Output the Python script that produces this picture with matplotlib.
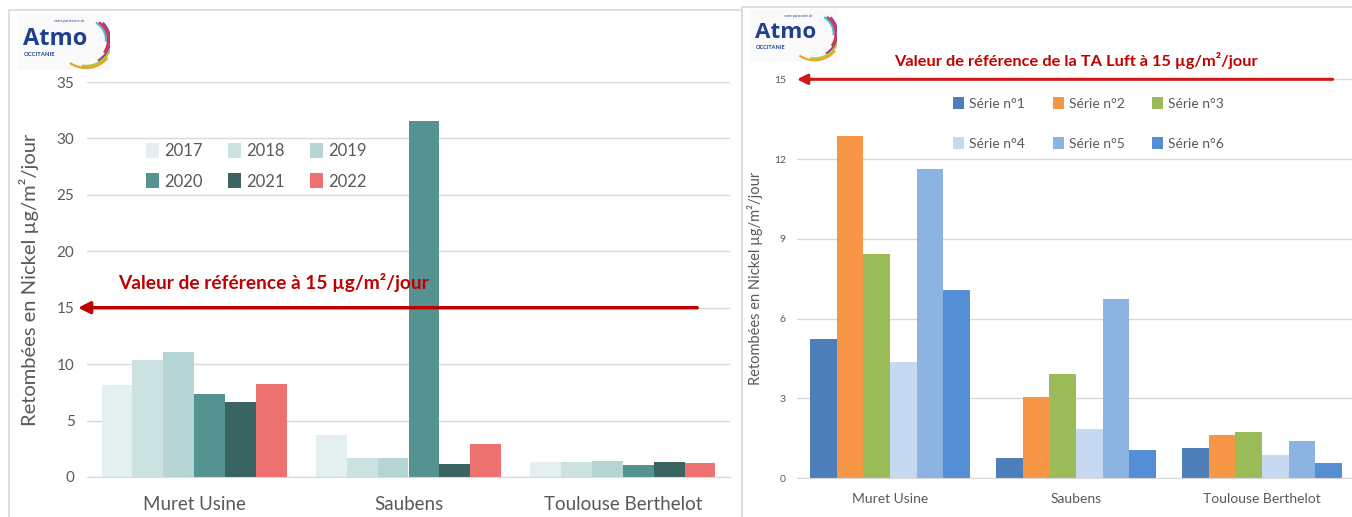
import matplotlib.pyplot as plt
import numpy as np
from matplotlib.patches import Arc, Rectangle

plt.rcParams["font.family"] = ["Lato", "DejaVu Sans"]

SITES = ["Muret Usine", "Saubens", "Toulouse Berthelot"]

# Annual nickel deposition per site (µg/m²/jour)
YEARS = ["2017", "2018", "2019", "2020", "2021", "2022"]
NI_2017 = [8.15, 3.75, 1.30]
NI_2018 = [10.38, 1.71, 1.36]
NI_2019 = [11.06, 1.65, 1.39]
NI_2020 = [7.35, 31.56, 1.06]
NI_2021 = [6.67, 1.18, 1.30]
NI_2022 = [8.26, 2.89, 1.21]
YEAR_COLORS = ["#e3f0ef", "#cce2e1", "#b4d5d4", "#559390", "#3a6462", "#ee7171"]

# Measurement series of the current campaign
SERIES = ["Série n°1", "Série n°2", "Série n°3", "Série n°4", "Série n°5", "Série n°6"]
SERIE_1 = [5.24, 0.77, 1.13]
SERIE_2 = [12.87, 3.05, 1.62]
SERIE_3 = [8.42, 3.91, 1.72]
SERIE_4 = [4.38, 1.84, 0.88]
SERIE_5 = [11.63, 6.75, 1.39]
SERIE_6 = [7.09, 1.07, 0.56]
SERIES_COLORS = ["#4f7fbb", "#f79646", "#9bbb59", "#c6d9f0", "#8db3e2", "#558ed5"]

REFERENCE = 15

W, H = 1352, 517
GREY = "#595959"


def px_rect(x0, y0, x1, y1):
    # pixel box (top-left origin) -> figure fraction [left, bottom, width, height]
    return [x0 / W, 1 - y1 / H, (x1 - x0) / W, (y1 - y0) / H]


def draw_logo(fig, x0, y0, scale=1.0):
    lax = fig.add_axes(px_rect(x0, y0, x0 + 92 * scale, y0 + 56 * scale))
    lax.set_xlim(0, 92)
    lax.set_ylim(56, 0)
    lax.axis("off")
    lax.add_patch(Rectangle((0, 0), 92, 56, color="#fafafa", zorder=0))
    lax.text(5, 25, "Atmo", fontsize=17 * scale, fontweight="bold", color="#1f3f8f",
             ha="left", va="center", family="Open Sans")
    lax.text(6, 40, "OCCITANIE", fontsize=4.2 * scale, fontweight="bold", color="#1f3f8f",
             ha="left", va="center")
    lax.text(36, 7, "votre partenaire air", fontsize=2.6 * scale, color="#1f3f8f",
             ha="left", va="center")
    arcs = [
        (40, 60, -5, "#3ec0e0"),
        (44, 54, -35, "#e03040"),
        (48, 46, -60, "#9b3c8c"),
        (52, -10, -100, "#a8c83c"),
        (56, -40, -125, "#f0a020"),
    ]
    for diam, t1, t0, col in arcs:
        lax.add_patch(Arc((68, 26), diam, diam, theta1=-t1, theta2=-t0, color=col,
                          lw=1.6 * scale))


def draw_frame(fig, x0, y0, x1, y1):
    fig.patches.append(Rectangle((x0 / W, 1 - y1 / H), (x1 - x0) / W, (y1 - y0) / H,
                                 transform=fig.transFigure, fill=False,
                                 edgecolor="#d9d9d9", lw=1.2))


def style_axes(ax, ticks, tick_size, pad):
    ax.set_yticks(ticks)
    ax.yaxis.grid(True, color="#d9d9d9", lw=1)
    ax.set_axisbelow(True)
    for side in ["top", "right", "left"]:
        ax.spines[side].set_visible(False)
    ax.spines["bottom"].set_color("#d9d9d9")
    ax.tick_params(length=0, colors=GREY)
    ax.tick_params(axis="y", labelsize=tick_size, pad=pad)


def grouped_bars(ax, values, colors, width):
    x = np.arange(len(SITES))
    for i, (vals, col) in enumerate(zip(values, colors)):
        ax.bar(x + (i - (len(values) - 1) / 2) * width, vals, width, color=col)
    ax.set_xticks(x)
    ax.set_xlim(-0.5, len(SITES) - 0.5)


fig = plt.figure(figsize=(W / 100, H / 100), dpi=100)

draw_frame(fig, 9, 10, 742, 530)
draw_frame(fig, 742, 7, 1360, 530)

# Left chart: yearly history
ax1 = fig.add_axes(px_rect(87, 82, 730, 477))
grouped_bars(ax1, [NI_2017, NI_2018, NI_2019, NI_2020, NI_2021, NI_2022], YEAR_COLORS, 0.144)
ax1.set_ylim(0, 35)
style_axes(ax1, np.arange(0, 36, 5), 11, 9)
ax1.set_xticklabels(SITES, fontsize=13.5, color=GREY)
ax1.tick_params(axis="x", pad=14)
ax1.set_ylabel("Retombées en Nickel µg/m²/jour", fontsize=14.5, color=GREY, labelpad=13)

order = [0, 3, 1, 4, 2, 5]
bars = ax1.containers
ax1.legend([bars[i] for i in order], [YEARS[i] for i in order], ncol=3, frameon=False,
           loc="upper left", bbox_to_anchor=(146 / W, 1 - 143 / H),
           bbox_transform=fig.transFigure, fontsize=12, labelcolor=GREY,
           handlelength=0.8, handleheight=1.0, handletextpad=0.3,
           columnspacing=1.5, labelspacing=0.85, borderpad=0, borderaxespad=0)

ax1.annotate("", xy=(-0.014, REFERENCE), xytext=(0.949, REFERENCE),
             xycoords=("axes fraction", "data"), annotation_clip=False,
             arrowprops=dict(arrowstyle="-|>,head_length=0.7,head_width=0.35",
                             color="#c00000", lw=2.5, shrinkA=0, shrinkB=0))
ax1.text(0.048, 17.2, "Valeur de référence à 15 µg/m²/jour", transform=ax1.get_yaxis_transform(),
         fontsize=13.8, fontweight="bold", color="#c00000", ha="left", va="center")

# Right chart: current campaign series
ax2 = fig.add_axes(px_rect(797, 79.3, 1355, 478))
grouped_bars(ax2, [SERIE_1, SERIE_2, SERIE_3, SERIE_4, SERIE_5, SERIE_6], SERIES_COLORS, 0.1435)
ax2.set_ylim(0, 15)
style_axes(ax2, np.arange(0, 16, 3), 7.5, 8)
ax2.set_xticklabels(SITES, fontsize=10, color=GREY)
ax2.tick_params(axis="x", pad=11)
ax2.set_ylabel("Retombées en Nickel µg/m²/jour", fontsize=10.5, color=GREY, labelpad=8)

bars = ax2.containers
ax2.legend([bars[i] for i in order], [SERIES[i] for i in order], ncol=3, frameon=False,
           loc="upper left", bbox_to_anchor=(953 / W, 1 - 97 / H),
           bbox_transform=fig.transFigure, fontsize=10, labelcolor=GREY,
           handlelength=0.8, handleheight=1.0, handletextpad=0.35,
           columnspacing=2.0, labelspacing=1.95, borderpad=0, borderaxespad=0)

ax2.annotate("", xy=(0.0, REFERENCE), xytext=(0.96, REFERENCE),
             xycoords=("axes fraction", "data"), annotation_clip=False,
             arrowprops=dict(arrowstyle="-|>,head_length=0.6,head_width=0.3",
                             color="#d0181b", lw=2.2, shrinkA=0, shrinkB=0))
ax2.text(0.5, 15.69, "Valeur de référence de la TA Luft à 15 µg/m²/jour",
         transform=ax2.get_yaxis_transform(), fontsize=11.8, fontweight="bold",
         color="#c00000", ha="center", va="center", clip_on=False)

draw_logo(fig, 18, 14)
draw_logo(fig, 750, 9, 0.95)

fig.savefig("out.png", dpi=100)
